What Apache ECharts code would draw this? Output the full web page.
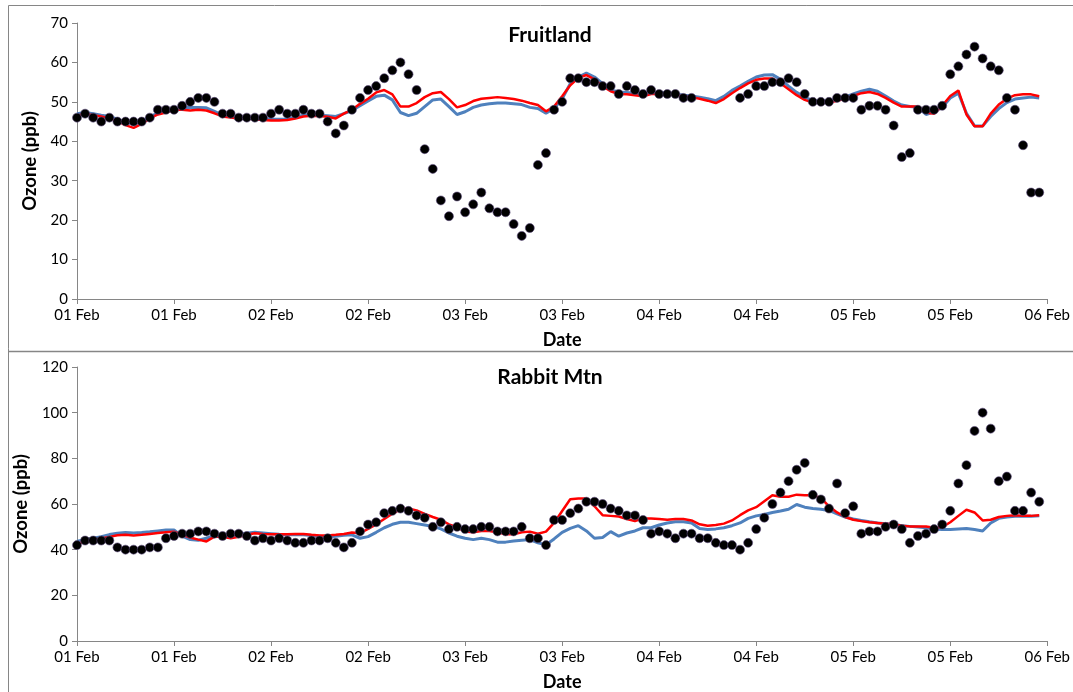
<!DOCTYPE html>
<html>
<head>
<meta charset="utf-8">
<script src="https://cdn.jsdelivr.net/npm/echarts@6/dist/echarts.min.js"></script>
<style>
  html, body { margin: 0; padding: 0; background: #fff; }
  #chart { width: 1073px; height: 692px; }
</style>
</head>
<body>
<div id="chart"></div>
<script>
// hours since 01 Feb 00:00, one value per hour (0..119)
const tickLabels = ['01 Feb', '01 Feb', '02 Feb', '02 Feb', '03 Feb', '03 Feb',
  '04 Feb', '04 Feb', '05 Feb', '05 Feb', '06 Feb'];

// Fruitland
const fruitObs = [
  46, 47, 46, 45, 46, 45, 45, 45, 45, 46, 48, 48, 48, 49, 50, 51, 51, 50, 47, 47, 46, 46, 46, 46,
  47, 48, 47, 47, 48, 47, 47, 45, 42, 44, 48, 51, 53, 54, 56, 58, 60, 57, 53, 38, 33, 25, 21, 26,
  22, 24, 27, 23, 22, 22, 19, 16, 18, 34, 37, 48, 50, 56, 56, 55, 55, 54, 54, 52, 54, 53, 52, 53,
  52, 52, 52, 51, 51, null, null, null, null, null, 51, 52, 54, 54, 55, 55, 56, 55, 52, 50, 50, 50,
  51, 51, 51, 48, 49, 49, 48, 44, 36, 37, 48, 48, 48, 49, 57, 59, 62, 64, 61, 59, 58, 51, 48, 39, 27, 27,
];
const fruitBlue = [
  47, 47.3, 47, 46.6, 46.3, 45.6, 44.8, 44.3, 45, 46.3, 47.1, 47.6, 48.3, 48.6, 48.6, 48.6, 48.5, 47.6, 46.6, 46.3, 46.1, 46, 46, 45.8,
  45.6, 45.6, 45.6, 46.1, 46.6, 46.8, 46.6, 46.5, 46.3, 47, 47.8, 49, 50.2, 51.4, 51.7, 50.5, 47.3, 46.5, 47.1, 48.8, 50.5, 50.7, 48.8, 46.8,
  47.5, 48.6, 49.2, 49.5, 49.7, 49.7, 49.5, 49.3, 48.6, 48.3, 47.1, 48.3, 50.8, 54.6, 56.3, 57.3, 56.3, 54.6, 53, 52.5, 52.4, 52.2, 52, 52.4,
  52.4, 52.2, 52, 51.7, 51.5, 51.2, 50.8, 50.3, 51.4, 52.9, 54, 55.2, 56.3, 56.8, 56.9, 55.7, 54, 52.4, 51.2, 50.3, 50.2, 50.2,
  50.7, 51.2, 52, 52.7, 53.2, 52.7, 51.5, 50.2, 49.2, 48.8, 48.6, 46.8, 47.5, 48.6, 51, 52.2, 47.1, 43.9, 43.9, 46.3, 48.3, 49.8, 50.7, 51, 51.2, 51,
];
const fruitRed = [
  46.5, 47, 46.6, 46.3, 45.8, 45.1, 44.1, 43.4, 44.4, 45.8, 46.8, 47.3, 48, 48, 47.8, 48, 47.8, 47.1, 46.3, 46, 45.8, 45.8, 45.6, 45.4,
  45.3, 45.3, 45.4, 45.8, 46.3, 46.5, 46.4, 46.2, 45.8, 47, 48, 49.5, 50.8, 52.4, 53, 51.9, 48.8, 48.8, 49.7, 51.2, 52.2, 52.5, 50.7, 48.6,
  49.2, 50.2, 50.8, 51, 51.2, 51, 50.7, 50.3, 49.7, 49.2, 47.6, 48.8, 51.4, 54.2, 56.1, 56.8, 55.7, 54, 52.7, 52, 51.9, 51.7, 51.4, 52,
  52, 51.9, 51.7, 51.4, 51.2, 50.8, 50.3, 49.7, 50.7, 52.2, 53.5, 54.7, 55.6, 55.9, 55.9, 54.7, 53.2, 51.7, 50.5, 49.8, 49.8, 49.8,
  50.3, 50.8, 51.5, 52.2, 52.5, 52, 51, 49.8, 48.8, 48.8, 48.8, 47.3, 47, 49, 51.5, 52.9, 46.8, 43.8, 43.8, 47, 49.3, 50.8, 51.7, 51.9, 51.9, 51.4,
];

// Rabbit Mtn
const rabbitObs = [
  42, 44, 44, 44, 44, 41, 40, 40, 40, 41, 41, 45, 46, 47, 47, 48, 48, 47, 46, 47, 47, 46, 44, 45,
  44, 45, 44, 43, 43, 44, 44, 45, 43, 41, 43, 48, 51, 52, 56, 57, 58, 57, 55, 54, 50, 52, 49, 50,
  49, 49, 50, 50, 48, 48, 48, 50, 45, 45, 42, 53, 53, 56, 58, 61, 61, 60, 58, 57, 55, 55, 53, 47,
  48, 47, 45, 47, 47, 45, 45, 43, 42, 42, 40, 43, 49, 54, 60, 65, 70, 75, 78, 64, 62, 58,
  69, 56, 59, 47, 48, 48, 50, 51, 49, 43, 46, 47, 49, 51, 57, 69, 77, 92, 100, 93, 70, 72, 57, 57, 65, 61,
];
const rabbitBlue = [
  43.7, 44.3, 45, 45.7, 46.6, 47.2, 47.5, 47.3, 47.5, 47.8, 48.2, 48.6, 48.6, 45.9, 44.4, 44.1, 45, 46.2, 46.5, 46.2, 46.5, 47.2, 47.6, 47.3,
  47, 46.7, 46.5, 46.5, 46.5, 46.2, 45.9, 45.6, 45.9, 46.3, 46.5, 45, 45.7, 47.6, 49.6, 51.1, 52, 52, 51.4, 50.8, 50.2, 49.1, 47.3, 45.9,
  45, 44.4, 45, 44.4, 43.3, 43.3, 43.8, 44.1, 44.4, 43, 42.1, 44.7, 47.6, 49.3, 50.5, 48.2, 45, 45.3, 47.9, 45.9, 47.3, 48.2, 49.6, 49.6,
  50.8, 51.7, 52.2, 52.2, 51.7, 49.3, 48.8, 49.1, 49.6, 50.5, 51.7, 53.7, 54.8, 55.4, 56.3, 56.9, 57.7, 59.8, 58.6, 58, 57.7, 57.2,
  55.7, 54.3, 53.4, 52.8, 52.2, 51.7, 51.4, 51.1, 50.5, 50.2, 49.9, 49.6, 49.1, 48.8, 48.8, 49.1, 49.3, 48.8, 48.2, 51.7, 53.7, 54.3, 54.6, 54.6, 54.6, 54.8,
];
const rabbitRed = [
  42.7, 43.4, 44.1, 44.9, 45.6, 46.3, 46.5, 46.2, 46.5, 46.9, 47.3, 47.6, 47.9, 46.5, 45.3, 44.4, 43.6, 45.7, 45.7, 45, 45.6, 46.5, 47.2, 46.9,
  46.7, 46.7, 46.7, 46.9, 46.9, 46.5, 46.2, 46.2, 46.5, 46.9, 47.5, 47.2, 49.1, 51.1, 53.4, 55.7, 57.7, 58, 57.2, 55.7, 54.3, 53.1, 51.1, 49.9,
  47.9, 47.6, 48.2, 48.2, 47.6, 46.7, 46.7, 47.6, 47.9, 47, 47.9, 51.7, 56.9, 62.1, 62.4, 62.4, 59, 55.1, 54.8, 54.5, 53.4, 52.5, 53.7, 53.7,
  53.4, 53.1, 53.4, 53.4, 52.8, 51.1, 50.5, 50.8, 51.4, 52.8, 55.1, 57.2, 58.6, 61.2, 63.8, 63.2, 63.2, 64.1, 63.8, 63.8, 62.7, 59,
  56.3, 54.3, 53.1, 52.5, 52, 51.7, 51.4, 51.1, 50.5, 50.2, 50.2, 50.1, 49.6, 49.9, 52, 54.8, 57.5, 56.3, 52.8, 53.1, 54.3, 54.8, 55.1, 54.8, 54.8, 55.1,
];

const FONT = 'Lato';
const axisGray = '#868686';

function pairs(arr) {
  return arr.map((v, h) => [h, v]).filter((p) => p[1] !== null);
}

function xAxisFor(gridIndex) {
  return {
    type: 'value',
    gridIndex,
    min: 0,
    max: 120,
    interval: 12,
    name: 'Date',
    nameLocation: 'middle',
    nameGap: 32,
    nameTextStyle: { fontFamily: FONT, fontWeight: 'bold', fontSize: 18, color: '#000' },
    axisLine: { lineStyle: { color: axisGray, width: 1 } },
    axisTick: { length: 5, lineStyle: { color: axisGray } },
    axisLabel: {
      fontFamily: FONT, fontSize: 15, color: '#000', margin: 9,
      formatter: (v) => tickLabels[Math.round(v / 12)],
    },
    splitLine: { show: false },
  };
}

function yAxisFor(gridIndex, max, interval) {
  return {
    type: 'value',
    gridIndex,
    min: 0,
    max,
    interval,
    name: 'Ozone (ppb)',
    nameLocation: 'middle',
    nameGap: 37,
    nameRotate: 90,
    nameTextStyle: { fontFamily: FONT, fontWeight: 'bold', fontSize: 18.5, color: '#000' },
    axisLine: { show: true, lineStyle: { color: axisGray, width: 1 } },
    axisTick: { show: true, length: 5, lineStyle: { color: axisGray } },
    axisLabel: { fontFamily: FONT, fontSize: 15, color: '#000', margin: 9 },
    splitLine: { show: false },
  };
}

function seriesFor(idx, obs, blue, red) {
  return [
    {
      type: 'line',
      xAxisIndex: idx,
      yAxisIndex: idx,
      data: pairs(blue),
      symbol: 'none',
      lineStyle: { color: '#4F81BD', width: 3 },
      z: 2,
    },
    {
      type: 'line',
      xAxisIndex: idx,
      yAxisIndex: idx,
      data: pairs(red),
      symbol: 'none',
      lineStyle: { color: '#FF0000', width: 2.5 },
      z: 3,
    },
    {
      type: 'scatter',
      xAxisIndex: idx,
      yAxisIndex: idx,
      data: pairs(obs),
      symbolSize: 9,
      itemStyle: { color: '#000', borderColor: '#5b4a7a', borderWidth: 0.6, opacity: 1 },
      z: 4,
    },
  ];
}

const chart = echarts.init(document.getElementById('chart'));
const option = {
  backgroundColor: '#fff',
  animation: false,
  title: [
    {
      text: 'Fruitland', left: 545, top: 20, textAlign: 'center',
      textStyle: { fontFamily: FONT, fontWeight: 'bold', fontSize: 21, color: '#000' },
    },
    {
      text: 'Rabbit Mtn', left: 545, top: 362, textAlign: 'center',
      textStyle: { fontFamily: FONT, fontWeight: 'bold', fontSize: 21, color: '#000' },
    },
  ],
  grid: [
    { left: 77, top: 23, width: 975, height: 276 },
    { left: 77, top: 367, width: 975, height: 277 },
  ],
  xAxis: [xAxisFor(0), xAxisFor(1)],
  yAxis: [yAxisFor(0, 70, 10), yAxisFor(1, 120, 20)],
  series: [
    ...seriesFor(0, fruitObs, fruitBlue, fruitRed),
    ...seriesFor(1, rabbitObs, rabbitBlue, rabbitRed),
  ],
  graphic: [
    // chart frames
    { type: 'line', shape: { x1: 8.5, y1: 5.5, x2: 1073, y2: 5.5 }, style: { stroke: axisGray, lineWidth: 1 } },
    { type: 'line', shape: { x1: 8.5, y1: 5.5, x2: 8.5, y2: 692 }, style: { stroke: axisGray, lineWidth: 1 } },
    { type: 'line', shape: { x1: 8.5, y1: 351.5, x2: 1073, y2: 351.5 }, style: { stroke: axisGray, lineWidth: 1.5 } },
  ],
};
chart.setOption(option);
</script>
</body>
</html>
